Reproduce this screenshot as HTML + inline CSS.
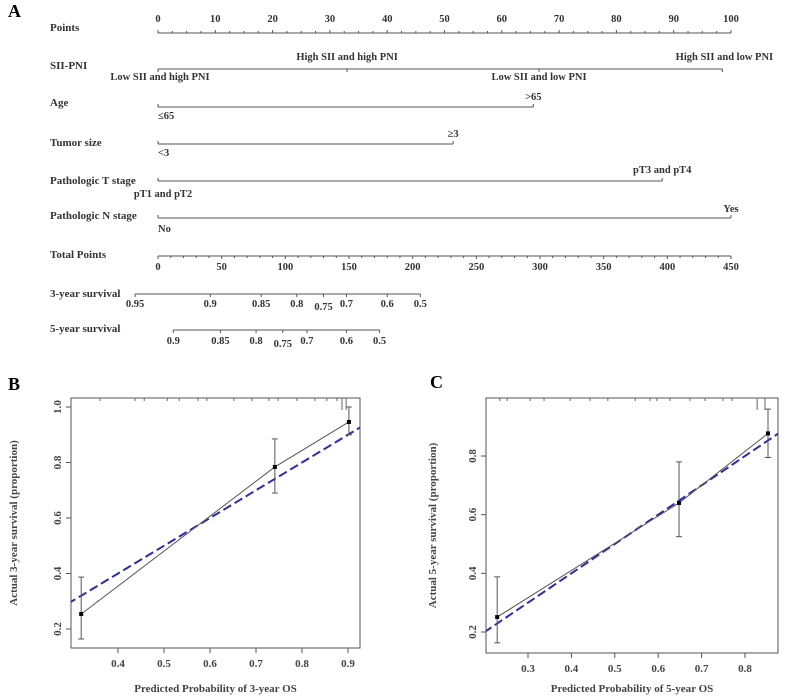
<!DOCTYPE html>
<html><head><meta charset="utf-8"><style>
body{margin:0;background:#fff;}
svg{display:block;font-family:"Liberation Serif",serif;font-weight:bold;}
</style></head><body>
<svg id="fig" width="785" height="699" viewBox="0 0 785 699" xmlns="http://www.w3.org/2000/svg">
<g id="nomo"></g>
<g id="plotB"></g>
<g id="plotC"></g>
</svg>
<script>
// ---------- nomogram data ----------
const pointTicks = [0,10,20,30,40,50,60,70,80,90,100];
const siiLevels = ["Low SII and high PNI","High SII and high PNI","Low SII and low PNI","High SII and low PNI"];
const siiPoints = [0,33,66.5,98.5];
const agePoints = [0,65.5];
const tumorPoints = [0,51.5];
const tStagePoints = [0,88];
const nStagePoints = [0,100];
const totalTicks = [0,50,100,150,200,250,300,350,400,450];
const surv3Labels = ["0.95","0.9","0.85","0.8","0.75","0.7","0.6","0.5"];
const surv3Total = [-18,41,81,109,130,148,180,206];
const surv5Labels = ["0.9","0.85","0.8","0.75","0.7","0.6","0.5"];
const surv5Total = [12,49,77,98,117,148,174];
// ---------- calibration data ----------
const predB = [0.32,0.741,0.902];
const obsB = [0.254,0.784,0.946];
const loB = [0.164,0.69,0.9];
const hiB = [0.387,0.885,1.0];
const rugB = [0.361,0.437,0.457,0.507,0.533,0.574,0.593,0.652,0.691,0.728,0.748,0.789,0.828,0.854,0.876];
const rugLongB = [0.887,0.896];
const xTicksB = [0.4,0.5,0.6,0.7,0.8,0.9];
const yTicksB = [0.2,0.4,0.6,0.8,1.0];
const predC = [0.229,0.648,0.853];
const obsC = [0.251,0.64,0.877];
const loC = [0.163,0.525,0.795];
const hiC = [0.388,0.78,0.96];
const rugC = [0.235,0.252,0.305,0.337,0.397,0.443,0.484,0.547,0.581,0.597,0.627,0.673,0.708,0.749,0.77];
const rugLongC = [0.828,0.846];
const xTicksC = [0.3,0.4,0.5,0.6,0.7,0.8];
const yTicksC = [0.2,0.4,0.6,0.8];

const NS="http://www.w3.org/2000/svg";
function mk(parent,tag,attrs,text){const e=document.createElementNS(NS,tag);for(const k in attrs)e.setAttribute(k,attrs[k]);if(text!==undefined)e.textContent=text;parent.appendChild(e);return e;}
const fig=document.getElementById('fig');
let t;
t=mk(fig,'text',{x:8,y:17,'font-size':18},'A');


t=mk(fig,'text',{x:8,y:390,'font-size':18},'B');


t=mk(fig,'text',{x:430,y:388,'font-size':18},'C');



// ---------- nomogram ----------
const nomo=document.getElementById('nomo');
const px=p=>158+p*5.73;
const tx=v=>158+v*(573/450);
const LC="#555";
function rowLabel(txt,y,name){const e=mk(nomo,'text',{x:50,y:y,'font-size':11,fill:'#333'},txt);

}
function hline(x1,x2,y,name){const e=mk(nomo,'line',{x1:x1,x2:x2,y1:y,y2:y,stroke:LC,'stroke-width':1});

}
function tick(x,y,len){mk(nomo,'line',{x1:x,x2:x,y1:y,y2:y-len,stroke:LC,'stroke-width':1});}
function lbl(txt,x,y,anchor,name){const e=mk(nomo,'text',{x:x,y:y,'font-size':10.5,fill:'#333','text-anchor':anchor||'middle'},txt);

}

rowLabel('Points',31,'points-label');
hline(px(0),px(100),33,'points-axis');
for(let p=0;p<=100;p+=2.5){tick(px(p),33,(p%10===0)?3:2);}
pointTicks.forEach(p=>lbl(String(p),px(p),22,'middle','points-tick-label'));

rowLabel('SII-PNI',69,'sii-pni-label');
hline(px(siiPoints[0]),px(siiPoints[3]),69,'sii-pni-axis');
siiPoints.forEach(p=>tick(px(p),69,-3));
lbl(siiLevels[0],px(siiPoints[0])+2,80,'middle','sii-level-label');
lbl(siiLevels[1],px(siiPoints[1]),60,'middle','sii-level-label');
lbl(siiLevels[2],px(siiPoints[2]),80,'middle','sii-level-label');
lbl(siiLevels[3],px(siiPoints[3])+2,60,'middle','sii-level-label');

rowLabel('Age',106,'age-label');
hline(px(agePoints[0]),px(agePoints[1]),107,'age-axis');
agePoints.forEach(p=>tick(px(p),107,3));
lbl('≤65',px(agePoints[0]),119,'start','age-level-label');
lbl('>65',px(agePoints[1]),100,'middle','age-level-label');

rowLabel('Tumor size',146,'tumor-size-label');
hline(px(tumorPoints[0]),px(tumorPoints[1]),144,'tumor-size-axis');
tumorPoints.forEach(p=>tick(px(p),144,3));
lbl('<3',px(tumorPoints[0]),156,'start','tumor-level-label');
lbl('≥3',px(tumorPoints[1]),137,'middle','tumor-level-label');

rowLabel('Pathologic T stage',184,'t-stage-label');
hline(px(tStagePoints[0]),px(tStagePoints[1]),181,'t-stage-axis');
tStagePoints.forEach(p=>tick(px(p),181,3));
lbl('pT1 and pT2',px(tStagePoints[0])+5,197,'middle','t-stage-level-label');
lbl('pT3 and pT4',px(tStagePoints[1]),173,'middle','t-stage-level-label');

rowLabel('Pathologic N stage',219,'n-stage-label');
hline(px(nStagePoints[0]),px(nStagePoints[1]),218,'n-stage-axis');
nStagePoints.forEach(p=>tick(px(p),218,3));
lbl('No',px(nStagePoints[0]),232,'start','n-stage-level-label');
lbl('Yes',px(nStagePoints[1]),212,'middle','n-stage-level-label');

rowLabel('Total Points',258,'total-points-label');
hline(tx(0),tx(450),256,'total-points-axis');
for(let v=0;v<=450;v+=10){tick(tx(v),256,(v%50===0)?-3:-2);}
totalTicks.forEach(v=>lbl(String(v),tx(v),270,'middle','total-points-tick-label'));

rowLabel('3-year survival',297,'survival-3-label');
hline(tx(surv3Total[0]),tx(surv3Total[surv3Total.length-1]),294,'survival-3-axis');
surv3Total.forEach((v,i)=>{tick(tx(v),294,-3);lbl(surv3Labels[i],tx(v),surv3Labels[i]==='0.75'?310:307,'middle','survival-3-tick-label');});

rowLabel('5-year survival',332,'survival-5-label');
hline(tx(surv5Total[0]),tx(surv5Total[surv5Total.length-1]),330,'survival-5-axis');
surv5Total.forEach((v,i)=>{tick(tx(v),330,-3);lbl(surv5Labels[i],tx(v),surv5Labels[i]==='0.75'?347:344,'middle','survival-5-tick-label');});

// ---------- calibration plots ----------
function calPlot(gid,box,xm,ym,pred,obs,lo,hi,rug,rugLong,xt,yt,ylab,xlab,ytx,xly){
  const g=document.getElementById(gid);
  const X=v=>xm.px0+(v-xm.v0)*xm.k, Y=v=>ym.px0-(v-ym.v0)*ym.k;
  const clipId=gid+'clip';
  const cp=mk(g,'clipPath',{id:clipId});mk(cp,'rect',{x:box.x,y:box.y,width:box.w,height:box.h});
  let e=mk(g,'rect',{x:box.x,y:box.y,width:box.w,height:box.h,fill:'none',stroke:'#555','stroke-width':1});
  
  
  xt.forEach(v=>{mk(g,'line',{x1:X(v),x2:X(v),y1:box.y+box.h,y2:box.y+box.h+5,stroke:'#555'});
    const tt=mk(g,'text',{x:X(v),y:box.y+box.h+19,'font-size':11,fill:'#444','text-anchor':'middle'},v.toFixed(1));
    
    });
  yt.forEach(v=>{mk(g,'line',{x1:box.x-5,x2:box.x,y1:Y(v),y2:Y(v),stroke:'#555'});
    const tt=mk(g,'text',{x:box.x-10,y:Y(v),'font-size':11,fill:'#444','text-anchor':'middle',transform:`rotate(-90 ${box.x-10} ${Y(v)})`},v.toFixed(1));
    
    });
  rug.forEach(v=>mk(g,'line',{x1:X(v),x2:X(v),y1:box.y,y2:box.y+3,stroke:'#666'}));
  rugLong.forEach(v=>mk(g,'line',{x1:X(v),x2:X(v),y1:box.y,y2:box.y+12,stroke:'#666'}));
  const gc=mk(g,'g',{'clip-path':`url(#${clipId})`});
  e=mk(gc,'line',{x1:X(0),y1:Y(0),x2:X(1.2),y2:Y(1.2),stroke:'#2b2bb8','stroke-width':2,'stroke-dasharray':'9,4'});
  
  
  e=mk(g,'polyline',{points:pred.map((p,i)=>X(p)+','+Y(obs[i])).join(' '),fill:'none',stroke:'#555','stroke-width':1});
  
  
  pred.forEach((p,i)=>{
    const eb=mk(g,'g',{});
    
    
    mk(eb,'line',{x1:X(p),x2:X(p),y1:Y(lo[i]),y2:Y(hi[i]),stroke:'#555'});
    mk(eb,'line',{x1:X(p)-3,x2:X(p)+3,y1:Y(lo[i]),y2:Y(lo[i]),stroke:'#555'});
    mk(eb,'line',{x1:X(p)-3,x2:X(p)+3,y1:Y(hi[i]),y2:Y(hi[i]),stroke:'#555'});
    const pt=mk(g,'rect',{x:X(p)-2,y:Y(obs[i])-2,width:4,height:4,fill:'#000'});
    
    
  });
  e=mk(g,'text',{x:ytx,y:box.y+box.h/2,'font-size':11,fill:'#444','text-anchor':'middle',transform:`rotate(-90 ${ytx} ${box.y+box.h/2})`},ylab);
  
  
  e=mk(g,'text',{x:box.x+box.w/2,y:xly,'font-size':11,fill:'#444','text-anchor':'middle'},xlab);
  
  
}
calPlot('plotB',{x:71,y:398,w:289,h:250},{px0:118,v0:0.4,k:460},{px0:629,v0:0.2,k:277.5},
  predB,obsB,loB,hiB,rugB,rugLongB,xTicksB,yTicksB,'Actual 3-year survival (proportion)','Predicted Probability of 3-year OS',17,692);
calPlot('plotC',{x:486,y:398,w:292,h:255},{px0:528,v0:0.3,k:434},{px0:632,v0:0.2,k:293.3},
  predC,obsC,loC,hiC,rugC,rugLongC,xTicksC,yTicksC,'Actual 5-year survival (proportion)','Predicted Probability of 5-year OS',436,692);
</script>
</body></html>
